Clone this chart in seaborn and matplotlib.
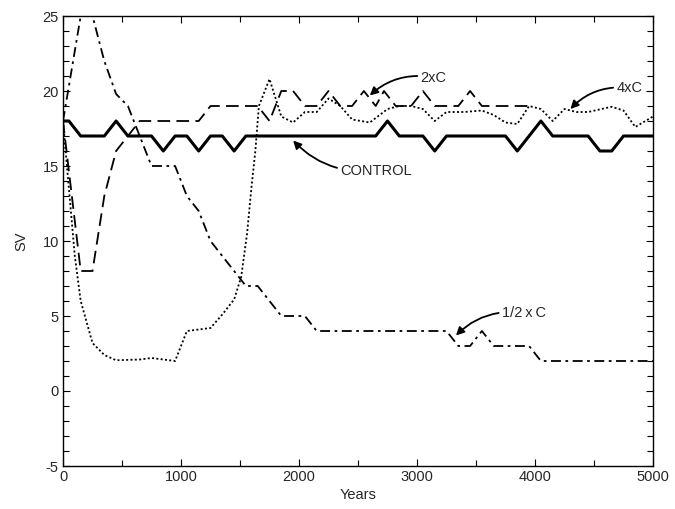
#import libraries
import numpy as np
import pandas as pd
import matplotlib
matplotlib.use("Agg")
import matplotlib.pyplot as plt
from matplotlib.ticker import MultipleLocator
import seaborn as sns

# data (years, SV)
ctrl_years = [0, 50, 150, 350, 450, 550, 750, 850, 950, 1050, 1150, 1250, 1350, 1450, 1550,
              2650, 2750, 2850, 3050, 3150, 3250, 3750, 3850, 4050, 4150, 4450, 4550, 4650, 4750, 5000]
ctrl_sv = [18, 18, 17, 17, 18, 17, 17, 16, 17, 17, 16, 17, 17, 16, 17,
           17, 18, 17, 17, 16, 17, 17, 16, 18, 17, 17, 16, 16, 17, 17]

x2_years = [0, 150, 250, 350, 450, 650, 1150, 1250, 1650, 1750, 1850, 1950, 2050, 2150, 2250,
            2350, 2450, 2550, 2650, 2720, 2820, 2950, 3050, 3150, 3350, 3450, 3550, 3950]
x2_sv = [18, 8, 8, 13, 16, 18, 18, 19, 19, 18, 20, 20, 19, 19, 20,
         19, 19, 20, 19, 20, 19, 19, 20, 19, 19, 20, 19, 19]

x4_years = [0, 100, 150, 250, 350, 450, 650, 750, 950, 1050, 1250, 1350, 1450, 1510, 1560, 1600,
            1630, 1660, 1750, 1850, 1950, 2050, 2150, 2250, 2350, 2450, 2600, 2750, 2850, 2950,
            3050, 3150, 3250, 3400, 3550, 3650, 3750, 3850, 3950, 4050, 4150, 4250, 4350, 4450,
            4650, 4750, 4850, 5000]
x4_sv = [18, 9, 6, 3.2, 2.4, 2.05, 2.1, 2.2, 2.0, 4.0, 4.2, 5.1, 6.1, 7.6, 10.5, 13.8,
         16, 19, 20.8, 18.3, 17.9, 18.6, 18.6, 19.5, 19.0, 18.1, 17.9, 18.8, 19.0, 19.0,
         18.8, 18.0, 18.6, 18.6, 18.7, 18.4, 17.9, 17.8, 19.0, 18.8, 18.0, 18.8, 18.6, 18.6,
         18.95, 18.7, 17.6, 18.3]

half_years = [0, 150, 250, 350, 450, 550, 750, 950, 1050, 1150, 1250, 1450, 1550, 1650, 1850,
              2050, 2150, 3250, 3350, 3450, 3550, 3650, 3950, 4050, 5000]
half_sv = [18, 25, 25, 22, 19.8, 19, 15, 15, 13, 12, 10, 8, 7, 7, 5,
           5, 4, 4, 3, 3, 4, 3, 3, 2, 2]

sns.set_style("ticks")
plt.rcParams['font.family'] = ['Liberation Sans', 'DejaVu Sans']
plt.rcParams['axes.unicode_minus'] = False

fig = plt.figure(figsize=(6.75, 5.09), dpi=100)
ax = fig.add_axes([63/675, 1-466/509, 590/675, 450/509])

sns.lineplot(x=ctrl_years, y=ctrl_sv, ax=ax, color='black', lw=2.2, estimator=None)
sns.lineplot(x=x2_years, y=x2_sv, ax=ax, color='black', lw=1.3, estimator=None,
             linestyle=(0, (7, 3.5)))
sns.lineplot(x=half_years, y=half_sv, ax=ax, color='black', lw=1.3, estimator=None,
             linestyle=(0, (5.5, 2.5, 1.5, 2.5)))
sns.lineplot(x=x4_years, y=x4_sv, ax=ax, color='black', lw=1.3, estimator=None,
             linestyle=(0, (1.1, 1.3)))

ax.set_xlim(0, 5000)
ax.set_ylim(-5, 25)
ax.xaxis.set_major_locator(MultipleLocator(1000))
ax.xaxis.set_minor_locator(MultipleLocator(500))
ax.yaxis.set_major_locator(MultipleLocator(5))
ax.yaxis.set_minor_locator(MultipleLocator(1))
ax.tick_params(which='both', direction='in', top=True, right=True, color='black',
               labelsize=10.5, width=0.8)
ax.tick_params(which='major', length=5, pad=3)
ax.tick_params(which='minor', length=4)
for s in ax.spines.values():
    s.set_color('black')
    s.set_linewidth(1.0)

ax.set_xlabel('Years', fontsize=10.5, labelpad=3)
ax.set_ylabel('SV', fontsize=10.5, labelpad=10)

arrow = dict(arrowstyle='-|>', color='black', lw=1.3, mutation_scale=12, shrinkA=0, shrinkB=0)
ax.annotate('2xC', xy=(2600, 19.7), xytext=(3030, 20.9), fontsize=10.5, va='center',
            arrowprops=dict(arrow, connectionstyle='arc3,rad=0.25'))
ax.annotate('4xC', xy=(4300, 18.8), xytext=(4690, 20.2), fontsize=10.5, va='center',
            arrowprops=dict(arrow, connectionstyle='arc3,rad=0.25'))
ax.annotate('CONTROL', xy=(1950, 16.7), xytext=(2350, 14.7), fontsize=10.5, va='center',
            arrowprops=dict(arrow, connectionstyle='arc3,rad=-0.25'))
ax.annotate('1/2\u2009x\u2009C', xy=(3330, 3.7), xytext=(3720, 5.2), fontsize=10.5, va='center',
            arrowprops=dict(arrow, connectionstyle='arc3,rad=0.25'))

fig.savefig('out.png', dpi=100)
